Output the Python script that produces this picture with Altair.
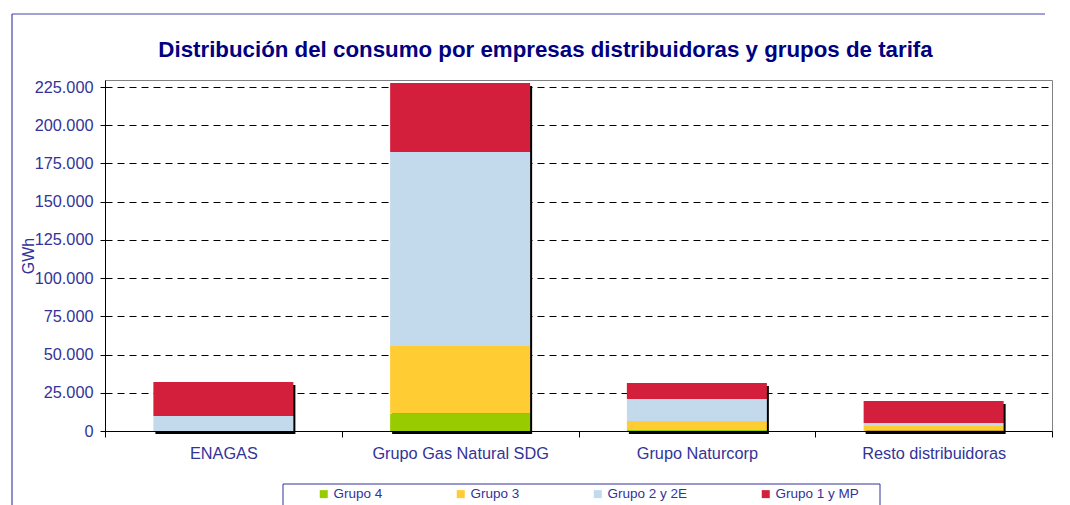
import altair as alt
import pandas as pd

# ---- data ----
companies = ["ENAGAS", "Grupo Gas Natural SDG", "Grupo Naturcorp", "Resto distribuidoras"]
groups = ["Grupo 4", "Grupo 3", "Grupo 2 y 2E", "Grupo 1 y MP"]
grupo_4 = [0, 11300, 650, 200]
grupo_3 = [0, 44300, 5900, 3100]
grupo_2 = [9800, 126900, 14400, 1950]
grupo_1 = [22200, 45100, 10450, 14400]
group_colors = ["#99CC00", "#FFCC33", "#C3D9EC", "#D41F3C"]
y_ticks = [0, 25000, 50000, 75000, 100000, 125000, 150000, 175000, 200000, 225000]
y_max = 229600

series = [grupo_4, grupo_3, grupo_2, grupo_1]
rows = []
for i, c in enumerate(companies):
    for j, g in enumerate(groups):
        rows.append({"empresa": c, "grupo": g, "orden": j, "gwh": series[j][i]})
df = pd.DataFrame(rows)
totals = pd.DataFrame({"empresa": companies,
                       "total": [sum(v) for v in zip(*series)]})

W, H = 947, 351
LABEL = "#333399"
FONT = "Liberation Sans"
FRAME = "#4444AA"

x_enc = alt.X(
    "empresa:N", sort=companies,
    scale=alt.Scale(paddingInner=0, paddingOuter=0),
    axis=alt.Axis(title=None, labelAngle=0, tickBand="extent", ticks=True, tickSize=6,
                  tickColor="black", domainColor="black", labelPadding=8,
                  labelFontSize=16.3, labelColor=LABEL, labelFont=FONT, grid=False),
)
y_scale = alt.Scale(domain=[0, y_max], nice=False, zero=True)
y_axis = alt.Axis(
    values=y_ticks, labelExpr="replace(format(datum.value, ','), /,/g, '.')",
    labelFontSize=16.3, labelColor=LABEL, labelFont=FONT, labelPadding=7,
    tickSize=5, tickColor="black", domainColor="black",
    grid=True, gridColor="black", gridDash=[7, 5], gridWidth=1,
    title="GWh", titleFontSize=16, titleFontWeight="normal", titleColor=LABEL,
    titleFont=FONT, titleX=-77, titleY=H / 2, titleAngle=270,
    titleAlign="center", titleBaseline="middle",
)

one = pd.DataFrame({"k": [0]})
frame_top = alt.Chart(one).mark_rule(stroke=FRAME, strokeWidth=1.2).encode(
    x=alt.value(-93), x2=alt.value(940), y=alt.value(-66))
frame_left = alt.Chart(one).mark_rule(stroke=FRAME, strokeWidth=1.2).encode(
    x=alt.value(-93), y=alt.value(-66), y2=alt.value(425))
legend_box = alt.Chart(one).mark_rect(fillOpacity=0, stroke=LABEL, strokeWidth=1).encode(
    x=alt.value(178), x2=alt.value(775), y=alt.value(404), y2=alt.value(430))

shadow = alt.Chart(totals).mark_bar(size=140, color="black", xOffset=2, yOffset=3,
                                    y2Offset=-3).encode(
    x=x_enc,
    y=alt.Y("total:Q", scale=y_scale, axis=y_axis),
)

bars = alt.Chart(df).mark_bar(size=140).encode(
    x=x_enc,
    y=alt.Y("gwh:Q", stack="zero", scale=y_scale, axis=y_axis),
    color=alt.Color(
        "grupo:N",
        scale=alt.Scale(domain=groups, range=group_colors),
        legend=alt.Legend(orient="none", legendX=212, legendY=407, direction="horizontal",
                          columns=4, columnPadding=71, symbolType="square", symbolSize=64,
                          symbolStrokeWidth=0, labelFontSize=13.5, labelColor=LABEL,
                          labelFont=FONT, labelOffset=3, title=None, padding=0),
    ),
    order=alt.Order("orden:Q", sort="ascending"),
)

chart = alt.layer(frame_top, frame_left, legend_box, shadow, bars).properties(
    width=W, height=H,
    title=alt.TitleParams(
        "Distribución del consumo por empresas distribuidoras y grupos de tarifa",
        fontSize=22.3, font=FONT, fontWeight="bold", color="#000080",
        anchor="middle", frame="group", dx=-33, dy=68, offset=20),
    autosize=alt.AutoSizeParams(type="none"),
    padding={"left": 97, "top": 72, "right": 10, "bottom": 74},
).configure_view(stroke="#808080", strokeWidth=1)

chart.save("out.html", embed_options={"renderer": "svg", "actions": False})
